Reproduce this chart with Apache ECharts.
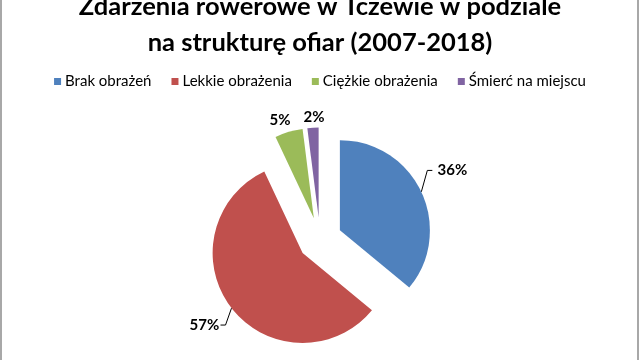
<!DOCTYPE html>
<html>
<head>
<meta charset="utf-8">
<script src="https://cdn.jsdelivr.net/npm/echarts@6/dist/echarts.min.js"></script>
<style>
  html, body { margin: 0; padding: 0; background: #fff; }
  #main { width: 640px; height: 360px; }
</style>
</head>
<body>
<div id="main"></div>
<script>
  // dane wykresu
  var categories = ['Brak obrażeń', 'Lekkie obrażenia', 'Ciężkie obrażenia', 'Śmierć na miejscu'];
  var values = [36, 57, 5, 2];
  var colors = ['#4F81BD', '#C0504D', '#9BBB59', '#8064A2'];
  var lineLen = [8, 8, 8, 8];
  var lineLen2 = [4, 4, 0, 0];
  var lineShow = [true, true, false, false];
  // przesunięcia etykiet (jak w Excelu)
  var labelDx = [0, 3, 9, 17];
  var labelDy = [-18, 12, -4, -3];

  var chart = echarts.init(document.getElementById('main'));

  var pieData = categories.map(function (name, i) {
    return {
      name: name,
      value: values[i],
      selected: true,
      itemStyle: { color: colors[i] },
      labelLine: { show: lineShow[i], length: lineLen[i], length2: lineLen2[i] }
    };
  });

  chart.setOption({
    animation: false,
    title: {
      text: 'Zdarzenia rowerowe w Tczewie w podziale\nna strukturę ofiar (2007-2018)',
      left: 'center',
      top: -16,
      textStyle: {
        fontFamily: 'Lato',
        fontWeight: 'bold',
        fontSize: 25.5,
        lineHeight: 36,
        color: '#000'
      }
    },
    legend: {
      top: 69,
      left: 'center',
      itemWidth: 7,
      itemHeight: 7,
      itemGap: 20,
      icon: 'rect',
      selectedMode: false,
      textStyle: { fontFamily: 'Lato', fontSize: 15, color: '#000', padding: [0, 0, 0, -1] },
      data: categories
    },
    graphic: [{
      type: 'rect',
      shape: { x: 1, y: -5, width: 637, height: 370 },
      style: { fill: 'none', stroke: '#8c8c8c', lineWidth: 1.5 },
      silent: true
    }],
    series: [{
      type: 'pie',
      center: [320, 239.5],
      radius: 90,
      startAngle: 90,
      clockwise: true,
      selectedMode: 'multiple',
      selectedOffset: 22,
      avoidLabelOverlap: false,
      label: {
        show: true,
        position: 'outside',
        formatter: '{c}%',
        fontFamily: 'Lato',
        fontWeight: 'bold',
        fontSize: 15,
        color: '#000'
      },
      labelLine: {
        lineStyle: { color: '#000', width: 1 }
      },
      labelLayout: function (params) {
        var i = params.dataIndex;
        var out = { dx: labelDx[i], dy: labelDy[i] };
        var pts = params.labelLinePoints;
        if (lineShow[i] && pts) {
          var p0 = pts[0];
          var dir = i === 0 ? 1 : -1;
          var ly = p0[1] + labelDy[i] + (pts[1][1] - p0[1]);
          out.labelLinePoints = [
            p0,
            [p0[0] + dir * 6, ly],
            [p0[0] + dir * 11, ly]
          ];
        }
        return out;
      },
      emphasis: { disabled: true },
      data: pieData
    }]
  });
</script>
</body>
</html>
